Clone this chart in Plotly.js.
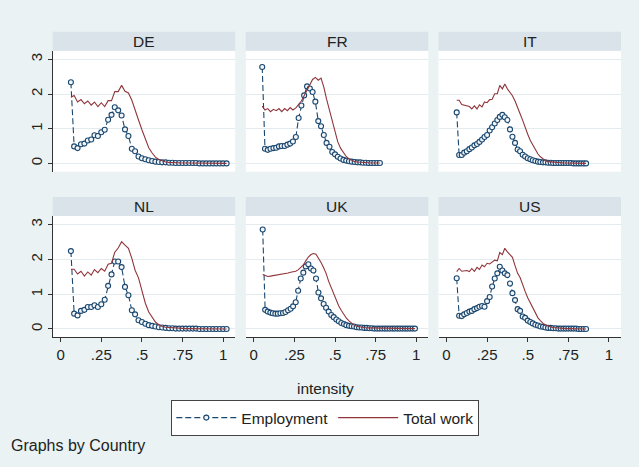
<!DOCTYPE html>
<html><head><meta charset="utf-8">
<script src="https://cdn.plot.ly/plotly-3.0.1.min.js"></script>
<style>html,body{margin:0;padding:0;background:#EAF2F3;}#chart{width:639px;height:467px;}</style>
</head><body><div id="chart"></div>
<script>
// ---- intensity grids (x values) ----
const intensityDE = [0.063,0.083,0.104,0.125,0.146,0.167,0.188,0.208,0.229,0.25,0.271,0.292,0.313,0.333,0.354,0.375,0.396,0.417,0.438,0.458,0.479,0.5,0.521,0.542,0.563,0.583,0.604,0.625,0.646,0.667,0.688,0.708,0.729,0.75,0.771,0.792,0.813,0.833,0.854,0.875,0.896,0.917,0.938,0.958,0.979,1.0,1.021];
const intensityFR = [0.052,0.069,0.086,0.103,0.121,0.138,0.155,0.172,0.19,0.207,0.224,0.241,0.259,0.276,0.293,0.31,0.328,0.345,0.362,0.379,0.397,0.414,0.431,0.448,0.466,0.483,0.5,0.517,0.534,0.552,0.569,0.586,0.603,0.621,0.638,0.655,0.672,0.69,0.707,0.724,0.741,0.759,0.776];
const intensityIT = [0.063,0.078,0.094,0.109,0.125,0.141,0.156,0.172,0.188,0.203,0.219,0.234,0.25,0.266,0.281,0.297,0.313,0.328,0.344,0.359,0.375,0.391,0.406,0.422,0.438,0.453,0.469,0.484,0.5,0.516,0.531,0.547,0.563,0.578,0.594,0.609,0.625,0.641,0.656,0.672,0.688,0.703,0.719,0.734,0.75,0.766,0.781,0.797,0.813,0.828,0.844,0.859];
const intensityUK = [0.055,0.07,0.086,0.102,0.117,0.133,0.148,0.164,0.18,0.195,0.211,0.227,0.242,0.258,0.273,0.289,0.305,0.32,0.336,0.352,0.367,0.383,0.398,0.414,0.43,0.445,0.461,0.477,0.492,0.508,0.523,0.539,0.555,0.57,0.586,0.602,0.617,0.633,0.648,0.664,0.68,0.695,0.711,0.727,0.742,0.758,0.773,0.789,0.805,0.82,0.836,0.852,0.867,0.883,0.898,0.914,0.93,0.945,0.961,0.977,0.992];

// ---- series ----
const empDE = [2.34,0.49,0.44,0.55,0.57,0.66,0.69,0.81,0.79,0.90,0.97,1.26,1.40,1.62,1.53,1.38,0.98,0.79,0.42,0.35,0.20,0.15,0.12,0.09,0.07,0.05,0.04,0.03,0.03,0.02,0.02,0.01,0.01,0.01,0.01,0.01,0.01,0.01,0,0,0,0,0,0,0,0,0];
const workDE = [1.91,1.96,1.77,1.84,1.72,1.80,1.68,1.77,1.64,1.75,1.64,1.81,1.81,2.07,2.07,2.25,2.08,2.03,1.82,1.57,1.25,0.97,0.69,0.45,0.30,0.18,0.11,0.07,0.04,0.03,0.02,0.02,0.01,0.01,0.01,0.01,0.01,0.01,0,0,0,0,0,0,0,0,0];
const empFR = [2.78,0.42,0.39,0.42,0.44,0.45,0.49,0.50,0.50,0.54,0.57,0.63,0.76,1.31,1.67,1.96,2.22,2.16,2.06,1.78,1.22,1.07,0.82,0.59,0.48,0.33,0.26,0.19,0.14,0.10,0.08,0.06,0.05,0.04,0.03,0.03,0.02,0.02,0.01,0.01,0.01,0.01,0.01];
const workFR = [1.65,1.54,1.58,1.49,1.56,1.52,1.58,1.49,1.58,1.52,1.61,1.54,1.60,1.70,1.80,1.95,2.12,2.25,2.42,2.48,2.40,2.46,2.20,1.85,1.53,1.22,0.90,0.62,0.44,0.31,0.20,0.13,0.08,0.05,0.04,0.03,0.02,0.02,0.01,0.01,0.01,0.01,0.01];
const empIT = [1.47,0.24,0.24,0.31,0.35,0.41,0.46,0.52,0.56,0.62,0.69,0.76,0.82,0.95,1.04,1.15,1.25,1.34,1.40,1.33,1.25,0.98,0.77,0.59,0.40,0.35,0.25,0.20,0.15,0.12,0.09,0.07,0.05,0.04,0.03,0.03,0.02,0.02,0.01,0.01,0.01,0.01,0.01,0.01,0.01,0.01,0,0,0,0,0,0];
const workIT = [1.82,1.82,1.70,1.68,1.65,1.64,1.57,1.66,1.57,1.69,1.63,1.77,1.75,1.84,1.85,2.01,2.01,2.25,2.15,2.29,2.15,2.06,1.95,1.80,1.58,1.43,1.24,1.02,0.84,0.66,0.52,0.38,0.27,0.19,0.13,0.08,0.05,0.04,0.03,0.02,0.02,0.01,0.01,0.01,0.01,0.01,0.01,0.01,0,0,0,0];
const empNL = [2.24,0.44,0.39,0.52,0.55,0.63,0.63,0.68,0.63,0.71,0.84,1.24,1.57,1.94,1.94,1.78,1.21,0.97,0.54,0.42,0.25,0.20,0.15,0.11,0.09,0.07,0.05,0.04,0.03,0.02,0.02,0.01,0.01,0.01,0.01,0.01,0.01,0.01,0,0,0,0,0,0,0,0,0];
const workNL = [1.72,1.72,1.58,1.66,1.52,1.64,1.55,1.71,1.62,1.74,1.66,1.86,1.89,2.21,2.33,2.51,2.41,2.32,2.03,1.69,1.47,1.08,0.74,0.49,0.33,0.20,0.12,0.07,0.05,0.04,0.03,0.02,0.02,0.01,0.01,0.01,0.01,0.01,0.01,0,0,0,0,0,0,0,0];
const empUK = [2.86,0.55,0.50,0.47,0.45,0.44,0.44,0.45,0.46,0.49,0.54,0.58,0.65,0.77,1.10,1.45,1.62,1.80,1.86,1.74,1.68,1.45,1.05,0.88,0.72,0.61,0.50,0.40,0.34,0.27,0.22,0.17,0.14,0.11,0.09,0.08,0.07,0.05,0.04,0.04,0.03,0.03,0.02,0.02,0.01,0.01,0.01,0.01,0.01,0.01,0.01,0.01,0.01,0.01,0.01,0.01,0.01,0.01,0.01,0.01,0.01];
const workUK = [1.57,1.53,1.51,1.52,1.53,1.55,1.56,1.57,1.58,1.60,1.61,1.63,1.64,1.66,1.70,1.76,1.84,1.96,2.07,2.14,2.17,2.15,2.05,1.91,1.76,1.60,1.37,1.18,1.00,0.82,0.66,0.53,0.41,0.31,0.23,0.17,0.11,0.08,0.06,0.05,0.04,0.03,0.03,0.03,0.02,0.02,0.02,0.02,0.02,0.02,0.01,0.01,0.01,0.01,0.01,0.01,0.01,0.01,0.01,0.01,0.01];
const empUS = [1.46,0.38,0.37,0.42,0.46,0.50,0.52,0.57,0.60,0.64,0.66,0.64,0.80,0.92,1.22,1.45,1.60,1.79,1.68,1.60,1.55,1.31,1.03,0.83,0.57,0.52,0.36,0.32,0.24,0.20,0.16,0.12,0.10,0.07,0.06,0.04,0.03,0.03,0.02,0.02,0.01,0.01,0.01,0.01,0.01,0.01,0.01,0.01,0,0,0,0];
const workUS = [1.65,1.74,1.66,1.68,1.68,1.65,1.74,1.66,1.77,1.71,1.84,1.79,1.89,1.87,1.93,1.98,1.96,2.20,2.14,2.32,2.22,2.15,2.06,1.82,1.60,1.48,1.25,1.08,0.90,0.76,0.60,0.45,0.32,0.24,0.16,0.12,0.08,0.06,0.04,0.03,0.02,0.02,0.01,0.01,0.01,0.01,0.01,0.01,0.01,0,0,0];

const countries = ["DE","FR","IT","NL","UK","US"];
const xTickVals = [0,0.25,0.5,0.75,1];
const xTickText = ["0",".25",".5",".75","1"];
const yTickVals = [0,1,2,3];

const panels = {
  DE:{x:intensityDE, emp:empDE, work:workDE},
  FR:{x:intensityFR, emp:empFR, work:workFR},
  IT:{x:intensityIT, emp:empIT, work:workIT},
  NL:{x:intensityDE, emp:empNL, work:workNL},
  UK:{x:intensityUK, emp:empUK, work:workUK},
  US:{x:intensityIT, emp:empUS, work:workUS}
};

const W=639, H=467;
const FONT = "Liberation Sans, Arial, Helvetica, sans-serif";
const colL=[52.7,245.8,438.5], colR=[235.2,428.3,621.0];
const rowTop=[50.7,216.0], rowBot=[171.7,337.3];
const stripH=19;
const NAVY="#1a476f", MAROON="#90353b";

const data=[], shapes=[], annotations=[];
const layout={width:W,height:H,autosize:false,margin:{l:0,r:0,t:0,b:0},
  paper_bgcolor:"#EAF2F3",plot_bgcolor:"#FFFFFF",font:{family:FONT,size:14,color:"#222"},
  showlegend:true};

countries.forEach((c,i)=>{
  const n=i+1, sfx = n===1?"":String(n);
  const row=Math.floor(i/3), col=i%3;
  const p=panels[c];
  data.push({x:p.x,y:p.emp,xaxis:"x"+sfx,yaxis:"y"+sfx,type:"scatter",mode:"lines+markers",
    name:"Employment",legendgroup:"emp",showlegend:n===1,
    line:{color:NAVY,width:1.1,dash:"6px,3px"},
    marker:{symbol:"circle",size:5,color:"#F2F6F9",line:{color:NAVY,width:1.1}}});
  data.push({x:p.x,y:p.work,xaxis:"x"+sfx,yaxis:"y"+sfx,type:"scatter",mode:"lines",
    name:"Total work",legendgroup:"work",showlegend:n===1,
    line:{color:MAROON,width:1.1}});
  const bottom=row===1, left=col===0;
  layout["xaxis"+sfx]={domain:[colL[col]/W,colR[col]/W],range:[-0.049,1.074],anchor:"y"+sfx,
    showgrid:false,zeroline:false,tickvals:xTickVals,ticktext:xTickText,
    showline:bottom,linecolor:"#333",linewidth:1,ticks:bottom?"outside":"",ticklen:4,tickcolor:"#333",tickwidth:1,
    showticklabels:bottom,tickfont:{size:15,color:"#222",family:FONT}};
  layout["yaxis"+sfx]={domain:[1-rowBot[row]/H,1-rowTop[row]/H],range:[-0.24,3.25],anchor:"x"+sfx,
    showgrid:true,gridcolor:"#E3EBEF",gridwidth:1,zeroline:false,tickvals:yTickVals,
    showline:left,linecolor:"#333",linewidth:1,ticks:left?"outside":"",ticklen:4,tickcolor:"#333",tickwidth:1,
    tickangle:-90,showticklabels:left,tickfont:{size:15,color:"#222",family:FONT}};
  shapes.push({type:"rect",xref:"paper",yref:"paper",x0:colL[col]/W,x1:colR[col]/W,
    y0:1-rowTop[row]/H,y1:1-(rowTop[row]-stripH)/H,fillcolor:"#D9E3E9",line:{width:0},layer:"below"});
  annotations.push({xref:"paper",yref:"paper",x:(colL[col]+colR[col])/2/W,y:1-(rowTop[row]-stripH/2)/H,
    text:c,showarrow:false,xanchor:"center",yanchor:"middle",font:{size:15.5,color:"#222",family:FONT}});
});

annotations.push({xref:"paper",yref:"paper",x:325/W,y:1-388/H,text:"intensity",showarrow:false,
  xanchor:"center",yanchor:"middle",font:{size:15.5,color:"#222",family:FONT}});
annotations.push({xref:"paper",yref:"paper",x:9/W,y:1-445/H,text:"Graphs by Country",showarrow:false,
  xanchor:"left",yanchor:"middle",font:{size:16,color:"#222",family:FONT}});

layout.shapes=shapes;
layout.annotations=annotations;
layout.legend={orientation:"h",x:325.3/W,xanchor:"center",y:1-400/H,yanchor:"top",
  bgcolor:"#FFFFFF",bordercolor:"#444",borderwidth:1,itemwidth:60,
  font:{size:15.5,color:"#222",family:FONT},tracegroupgap:0};

Plotly.newPlot("chart",data,layout,{displayModeBar:false,staticPlot:true});
</script></body></html>
